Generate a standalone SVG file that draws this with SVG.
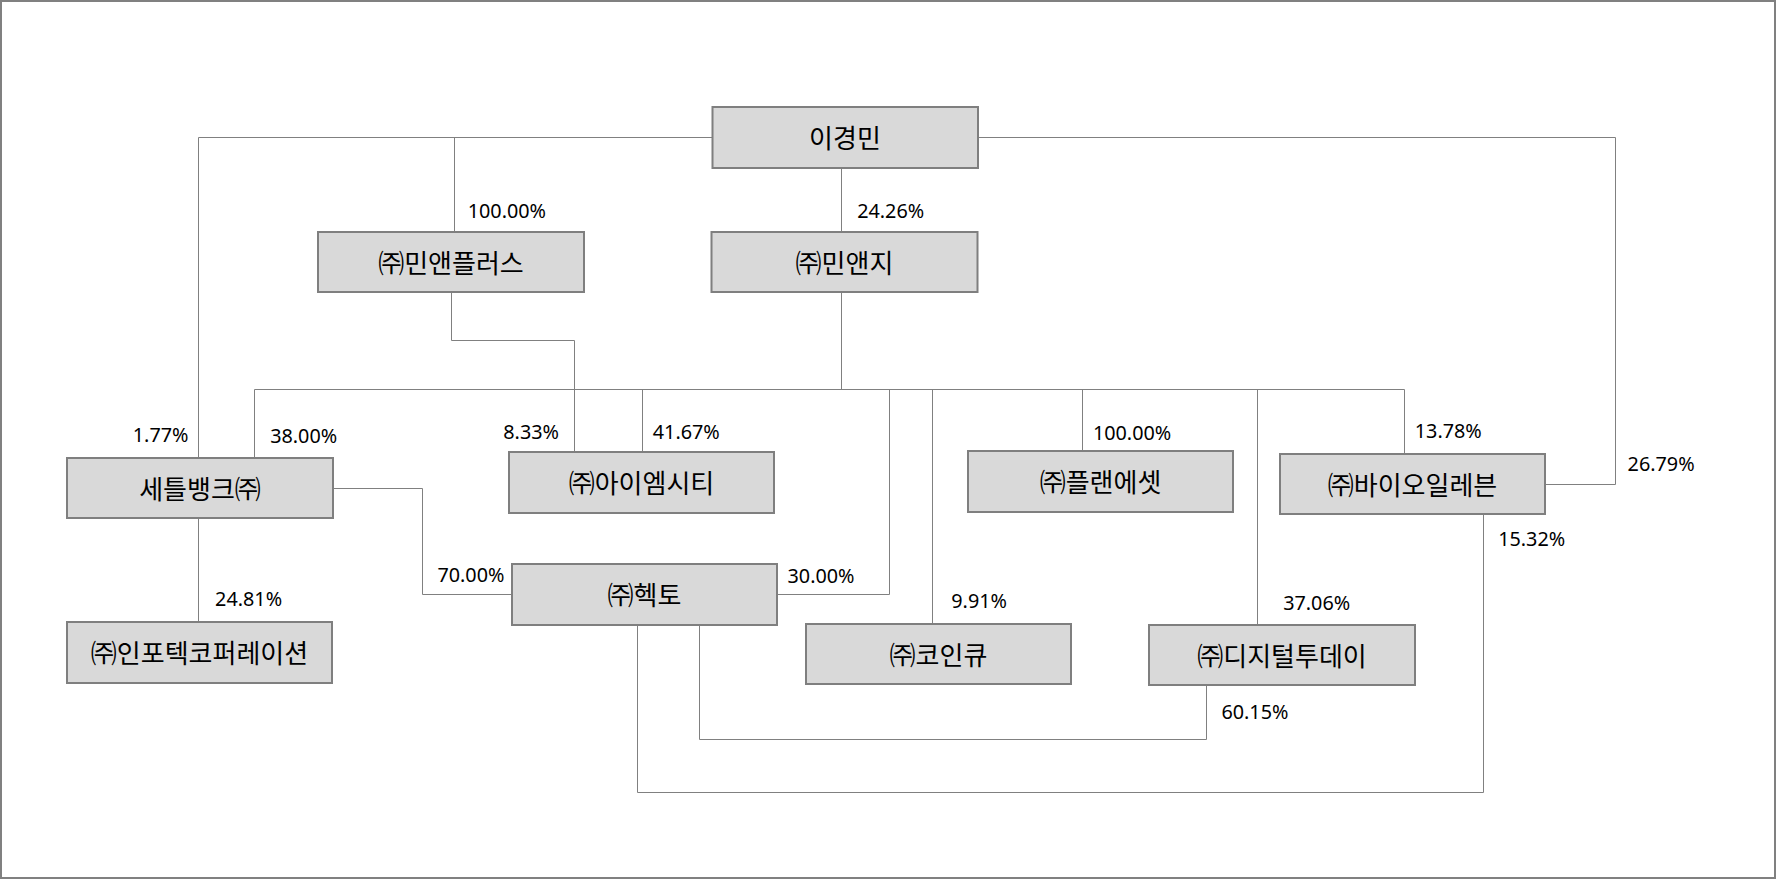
<svg xmlns="http://www.w3.org/2000/svg" width="1776" height="879" viewBox="0 0 1776 879">
<style>
.bg{fill:#ffffff}
.frame{fill:none;stroke:#808080;stroke-width:2}
.box{fill:#d9d9d9;stroke:#7f7f7f;stroke-width:2}
.name{font-family:"Malgun Gothic","Noto Sans CJK KR",sans-serif;font-size:26px;fill:#000;text-anchor:middle}
.pct{font-family:"Noto Sans","Noto Sans CJK KR",sans-serif;font-size:19.8px;fill:#000}
.ln{fill:none;stroke:#808080;stroke-width:1}
</style>
<rect class="bg" x="0" y="0" width="1776" height="879"/>
<rect class="frame" x="1" y="1" width="1774" height="877"/>
<g id="connectors">
<polyline class="ln" points="712.5,137.5 198.5,137.5 198.5,458"/>
<polyline class="ln" points="454.5,137.5 454.5,232"/>
<polyline class="ln" points="978,137.5 1615.5,137.5 1615.5,484.5 1545,484.5"/>
<polyline class="ln" points="841.5,168 841.5,232"/>
<polyline class="ln" points="841.5,292 841.5,389.5"/>
<polyline class="ln" points="254.5,389.5 1404.5,389.5"/>
<polyline class="ln" points="254.5,389.5 254.5,458"/>
<polyline class="ln" points="642.5,389.5 642.5,452"/>
<polyline class="ln" points="889.5,389.5 889.5,594.5 777,594.5"/>
<polyline class="ln" points="932.5,389.5 932.5,624"/>
<polyline class="ln" points="1082.5,389.5 1082.5,451"/>
<polyline class="ln" points="1257.5,389.5 1257.5,625"/>
<polyline class="ln" points="1404.5,389.5 1404.5,454"/>
<polyline class="ln" points="451.5,292 451.5,340.5 574.5,340.5 574.5,452"/>
<polyline class="ln" points="333,488.5 422.5,488.5 422.5,594.5 512,594.5"/>
<polyline class="ln" points="198.5,518 198.5,622"/>
<polyline class="ln" points="637.5,625 637.5,792.5 1483.5,792.5 1483.5,514"/>
<polyline class="ln" points="699.5,625 699.5,739.5 1206.5,739.5 1206.5,685"/>
<text class="pct" x="467.7" y="218.3">100.00%</text>
<text class="pct" x="857.2" y="218">24.26%</text>
<text class="pct" x="132.8" y="442.3">1.77%</text>
<text class="pct" x="270.2" y="442.7">38.00%</text>
<text class="pct" x="503.3" y="439.3">8.33%</text>
<text class="pct" x="652.8" y="438.7">41.67%</text>
<text class="pct" x="1092.9" y="440">100.00%</text>
<text class="pct" x="1414.8" y="438.3">13.78%</text>
<text class="pct" x="1627.6" y="470.7">26.79%</text>
<text class="pct" x="1498.2" y="545.7">15.32%</text>
<text class="pct" x="437.4" y="582.3">70.00%</text>
<text class="pct" x="787.5" y="583.3">30.00%</text>
<text class="pct" x="215.1" y="605.7">24.81%</text>
<text class="pct" x="951.3" y="607.7">9.91%</text>
<text class="pct" x="1283.2" y="610">37.06%</text>
<text class="pct" x="1221.4" y="719.3">60.15%</text>
</g>
<g id="n-leekyungmin"><rect class="box" x="712.5" y="107" width="265.5" height="61"/><text class="name" x="845" y="148">이경민</text></g>
<g id="n-minandplus"><rect class="box" x="318" y="232" width="266" height="60"/><text class="name" x="451" y="272.5">㈜민앤플러스</text></g>
<g id="n-minandg"><rect class="box" x="711.5" y="232" width="266" height="60"/><text class="name" x="844.5" y="272.5">㈜민앤지</text></g>
<g id="n-settlebank"><rect class="box" x="67" y="458" width="266" height="60"/><text class="name" x="200" y="498.5">세틀뱅크㈜</text></g>
<g id="n-imcity"><rect class="box" x="509" y="452" width="265" height="61"/><text class="name" x="641.5" y="493">㈜아이엠시티</text></g>
<g id="n-planasset"><rect class="box" x="968" y="451" width="265" height="61"/><text class="name" x="1100.5" y="492">㈜플랜에셋</text></g>
<g id="n-bioeleven"><rect class="box" x="1280" y="454" width="265" height="60"/><text class="name" x="1412.5" y="494.5">㈜바이오일레븐</text></g>
<g id="n-hecto"><rect class="box" x="512" y="564" width="265" height="61"/><text class="name" x="644.5" y="605">㈜헥토</text></g>
<g id="n-infotech"><rect class="box" x="67" y="622" width="265" height="61"/><text class="name" x="199.5" y="663">㈜인포텍코퍼레이션</text></g>
<g id="n-coinq"><rect class="box" x="806" y="624" width="265" height="60"/><text class="name" x="938.5" y="664.5">㈜코인큐</text></g>
<g id="n-digitaltoday"><rect class="box" x="1149" y="625" width="266" height="60"/><text class="name" x="1282" y="665.5">㈜디지털투데이</text></g>
</svg>
